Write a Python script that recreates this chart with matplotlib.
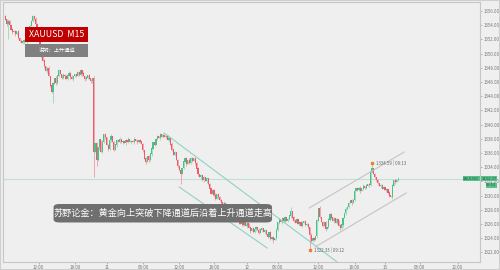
import numpy as np
import matplotlib.pyplot as plt
from matplotlib.patches import Rectangle, FancyBboxPatch

plt.rcParams['font.family'] = ['Noto Sans CJK SC', 'DejaVu Sans']

# M15 closes left to right
closes = [
    1354.8, 1354.2, 1354.6, 1354.0,
    1353.4, 1353.0, 1353.2, 1352.8, 1353.1,
    1352.2, 1351.8, 1351.5, 1351.7, 1351.9, 1351.6, 1352.0,
    1352.8, 1353.9, 1354.6, 1355.3, 1354.9,
    1354.2, 1353.1, 1352.0, 1351.0, 1349.8, 1349.0,
    1348.2, 1347.6, 1348.0,
    1346.8, 1345.5, 1344.6, 1345.8, 1346.5, 1345.9,
    1346.9, 1347.6, 1347.1, 1346.6, 1347.0,
    1346.8, 1346.5, 1346.9, 1347.3, 1346.7, 1346.4, 1346.8, 1347.1, 1346.9, 1347.4, 1347.0, 1347.6, 1347.2,
    1346.8, 1346.4, 1346.6, 1346.9, 1346.5, 1346.2, 1346.5,
    1336.2,
    1337.4, 1335.0, 1336.8, 1337.9, 1336.2, 1337.5,
    1338.6, 1338.2, 1337.1, 1336.6, 1337.8, 1338.4, 1337.5, 1336.5, 1337.2,
    1337.8, 1337.6, 1337.9, 1337.5, 1337.7, 1337.4, 1337.8, 1337.6, 1337.9,
    1337.5, 1337.7, 1337.6, 1338.0, 1337.7, 1337.5, 1337.8, 1337.6, 1337.3,
    1336.4, 1335.2, 1334.8, 1335.6, 1335.0,
    1335.9, 1336.6, 1337.5, 1337.2, 1338.0, 1338.4, 1338.1, 1338.6, 1338.3,
    1338.5, 1338.2, 1338.4, 1337.9, 1338.1,
    1337.2, 1336.5, 1335.8, 1336.1, 1335.0, 1334.2, 1333.6, 1333.0, 1333.9,
    1334.8, 1335.2, 1334.5, 1335.0, 1334.6, 1335.3, 1334.9,
    1335.3, 1334.6, 1333.8, 1333.0, 1332.6,
    1332.8, 1332.2, 1332.6, 1332.0, 1332.4, 1331.6, 1331.0,
    1330.3, 1330.8, 1330.1, 1329.6, 1330.2, 1329.8, 1329.4,
    1329.0, 1328.6, 1328.9, 1328.2, 1327.8, 1328.1, 1327.5, 1327.0, 1327.4,
    1326.8, 1326.5, 1326.9, 1326.3, 1326.0, 1326.4, 1325.9, 1326.2,
    1325.8, 1326.1, 1325.5, 1325.0, 1325.4, 1324.9, 1325.3, 1325.6, 1325.1,
    1324.8, 1325.2, 1325.4, 1324.9, 1325.1,
    1324.6, 1324.2, 1324.8, 1323.9, 1324.1, 1323.7, 1324.0,
    1325.1, 1326.2, 1326.6, 1326.3,
    1326.8, 1326.4, 1326.9, 1326.5, 1326.7,
    1327.2, 1327.8, 1326.9,
    1326.5, 1326.2, 1326.6, 1326.0, 1326.3, 1325.8, 1326.1, 1326.4, 1325.9, 1326.0, 1325.6,
    1324.4, 1323.6,
    1324.0, 1323.8, 1324.3,
    1326.5, 1328.2,
    1327.0, 1326.3, 1325.8, 1326.2,
    1325.3, 1325.6,
    1326.6, 1327.4, 1326.9,
    1326.4, 1326.8, 1326.2, 1326.6,
    1325.8, 1325.4, 1325.9,
    1326.8, 1327.5, 1328.1, 1328.4,
    1328.9, 1329.3, 1329.0, 1329.4,
    1330.6, 1331.0,
    1330.8, 1331.1, 1330.7, 1331.0,
    1331.3, 1331.1, 1331.4,
    1331.6, 1331.5,
    1333.4, 1333.9,
    1333.0, 1332.6, 1332.2,
    1331.8, 1331.3, 1331.5,
    1331.0, 1331.2, 1330.8, 1330.9,
    1330.4, 1330.0, 1329.8,
    1331.4, 1332.1, 1331.9,
    1332.2, 1332.37,
]
first_open = 1355.2

# wick lengths in tenths of a dollar, one digit per bar
upper_wick = ("2131021203 1202130121 0312021301 2102130210 3120213012 1021302120 "
              "1302110312 0213021203 1102130212 0312011302 1203120213 0212031202 "
              "1302120311 0213021203 1201130212 0312021302 1203120213 0211031202 "
              "1302120312 0213021103 1202130212 0312021302 1203110213 0212031202 "
              "1302120312 0213021201 1202130212 12")
lower_wick = ("1302120312 2013021201 1203140213 0212031202 1302120312 0213021203 "
              "3102130212 0312021302 1203120213 0212031202 1302120312 0213021203 "
              "1202130212 0312021302 1203120213 0212031202 1302120312 0213021203 "
              "1202130212 0312021302 1203120213 0212031202 1302120312 0213021203 "
              "1202130212 0312021302 1203120213 02")
low_spikes = {2: 1352.0, 33: 1343.0, 61: 1332.6, 63: 1334.2, 97: 1334.4, 121: 1331.6, 210: 1322.33}
high_spikes = {197: 1328.4, 253: 1334.59}

# channels (bar index, price)
down_upper = ([109.7, 229.0], [1338.83, 1320.66])
down_lower = ([120.0, 180.7], [1331.23, 1322.63])
up_upper = ([209.7, 275.2], [1328.27, 1336.15])
up_lower = ([213.8, 276.6], [1322.77, 1330.38])

xtick_pos = [23, 48, 70, 95, 120, 144, 167, 188, 216, 241, 262, 286, 312]
xtick_labels = ["12:00", "18:00", "11", "06:00", "12:00", "18:00", "12",
                "06:00", "12:00", "18:00", "13", "06:00", "12:00"]
ytick_vals = np.arange(1322, 1357, 2)

last_price = 1332.37
high_label = "1334.59 | 09:13"
low_label = "1322.33 | 09:12"

closes = np.array(closes)
n = len(closes)
opens = np.concatenate([[first_open], closes[:-1]])
uw = np.array([int(c) for c in upper_wick.replace(" ", "")][:n]) / 10
lw = np.array([int(c) for c in lower_wick.replace(" ", "")][:n]) / 10
highs = np.maximum(opens, closes) + uw
lows = np.minimum(opens, closes) - lw
for k, v in low_spikes.items():
    lows[k] = v
for k, v in high_spikes.items():
    highs[k] = v

bg = '#efefef'
up_c, dn_c = '#46c28b', '#ee5a69'
fig = plt.figure(figsize=(5, 2.7), dpi=100, facecolor=bg)
ax = fig.add_axes([3 / 500, 8 / 270, 477 / 500, 260 / 270], facecolor=bg)

x = np.arange(n)
up = closes >= opens
cols = np.where(up, up_c, dn_c)
wick_cols = np.where(up, '#9fdcc0', '#f4a4ac')
ax.vlines(x, lows, highs, colors=wick_cols, linewidth=0.7, zorder=2)
ax.bar(x, np.abs(closes - opens) + 0.05, bottom=np.minimum(opens, closes),
       width=0.8, color=cols, linewidth=0, zorder=3)

# current price line
ax.axhline(last_price, color='#bfe2d5', linewidth=0.8, zorder=1)

# channels
ch_teal = '#8fd3c0'
ch_gray = '#c4c4c4'
ax.plot(*down_upper, color=ch_teal, linewidth=0.8, zorder=4)
ax.plot(*down_lower, color=ch_teal, linewidth=0.8, zorder=4)
ax.plot(*up_upper, color=ch_gray, linewidth=0.8, zorder=4)
ax.plot(*up_lower, color=ch_gray, linewidth=0.8, zorder=4)

# high / low markers
hi_i = max(high_spikes, key=lambda k: high_spikes[k])
lo_i = min(low_spikes, key=lambda k: low_spikes[k])
ax.plot([hi_i], [highs[hi_i]], 's', color='#f07f2a', markersize=1.6, zorder=5)
ax.plot([lo_i], [lows[lo_i]], 's', color='#f07f2a', markersize=1.6, zorder=5)
ax.text(hi_i + 3, highs[hi_i], high_label, fontsize=3.2, color='#666666', va='center', zorder=5)
ax.text(lo_i + 3, lows[lo_i], low_label, fontsize=3.2, color='#666666', va='center', zorder=5)

ax.set_xlim(-1.5, 327.5)
ax.set_ylim(1320.66, 1357.28)

ax.yaxis.tick_right()
ax.set_yticks(ytick_vals)
ax.set_yticklabels([f"{v:.2f}" for v in ytick_vals])
ax.set_xticks(xtick_pos)
ax.set_xticklabels(xtick_labels)
ax.tick_params(axis='both', labelsize=3.2, colors='#9a9a9a', labelcolor='#777777',
               length=1.5, width=0.5, pad=0.8)
for s in ax.spines.values():
    s.set_color('#c6c6c6')
    s.set_linewidth(0.8)

# title boxes
ax.add_patch(Rectangle((0.047, 0.847), 0.132, 0.056, transform=ax.transAxes,
                       facecolor='#c00000', edgecolor='none', zorder=6))
ax.text(0.113, 0.875, "XAUUSD  M15", transform=ax.transAxes, fontsize=6.3,
        color='white', ha='center', va='center', zorder=7)
ax.add_patch(Rectangle((0.047, 0.787), 0.132, 0.05, transform=ax.transAxes,
                       facecolor='#808080', edgecolor='none', zorder=6))
ax.text(0.113, 0.812, "说明：上升通道", transform=ax.transAxes, fontsize=3.8,
        color='white', ha='center', va='center', zorder=7)

# comment box
ax.add_patch(FancyBboxPatch((0.106, 0.152), 0.458, 0.071, transform=ax.transAxes,
                            boxstyle='round,pad=0,rounding_size=0.012',
                            facecolor='#6f6f6f', edgecolor='none', zorder=6))
ax.text(0.335, 0.188, "苏野论金：黄金向上突破下降通道后沿着上升通道走高",
        transform=ax.transAxes, fontsize=6.6, color='white',
        ha='center', va='center', zorder=7)

# price labels on the right
ax.text(0.999, last_price, "XAUUSD", transform=ax.get_yaxis_transform(), fontsize=3,
        color='#1f5f40', ha='right', va='center', zorder=7,
        bbox=dict(boxstyle='square,pad=0.15', facecolor='#58c08a', edgecolor='none'))
ax.text(1.003, last_price, f"{last_price:.2f}", transform=ax.get_yaxis_transform(), fontsize=3,
        color='#1f5f40', ha='left', va='center', zorder=7, clip_on=False,
        bbox=dict(boxstyle='square,pad=0.15', facecolor='#58c08a', edgecolor='none'))
ax.text(1.013, last_price - 0.9, "09:52", transform=ax.get_yaxis_transform(), fontsize=3,
        color='#1f5f40', ha='left', va='center', zorder=7, clip_on=False,
        bbox=dict(boxstyle='square,pad=0.15', facecolor='#58c08a', edgecolor='none'))

fig.add_artist(Rectangle((0, 0), 1, 1, transform=fig.transFigure, fill=False,
                         edgecolor='#cfcfcf', linewidth=1.5))

fig.savefig('out.png', dpi=100, facecolor=bg)
